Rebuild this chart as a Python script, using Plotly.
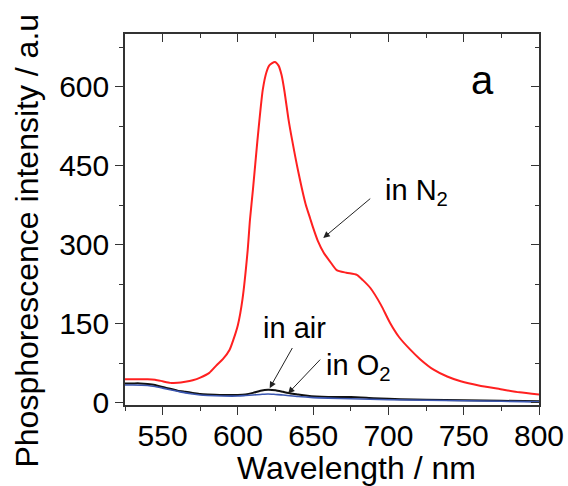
import plotly.graph_objects as go

# Phosphorescence spectra under different atmospheres
wl_n2 = [525, 530, 535, 540, 545, 550, 555, 560, 565, 570, 575, 581, 586, 590, 594.5,
         597, 600, 603, 606.5, 608, 610, 613, 616.5, 619, 621, 624.5, 627, 629, 631,
         633.5, 636, 640, 645, 648, 650, 653, 657, 662, 665.6, 672, 679, 683, 688,
         695, 701, 707, 714.5, 721, 730, 739, 748, 760, 774.5, 787, 800]
int_n2 = [45, 45, 45, 45, 44, 41, 38, 38, 40, 43, 48, 57, 72, 83, 101,
          120, 148, 196, 290, 347, 405, 499, 594, 628, 641, 647, 640, 622, 590,
          540, 499, 440, 377, 350, 332, 308, 285, 265, 252, 247, 243, 233, 218,
          186, 152, 125, 101, 83, 63, 50, 41, 33, 26, 20, 16]

wl_air = [525, 530, 535, 540, 545, 550, 555, 560, 565, 570, 575, 580, 588, 595, 600,
          605, 610, 615, 620, 625, 630, 635, 640, 645, 652, 660, 675, 690, 700, 708,
          725, 750, 775, 800]
int_air = [37, 37, 37, 36, 34, 30, 27, 23, 21, 19, 17, 16, 15, 15, 15,
           16, 19, 23, 25, 24, 21, 18, 16, 14, 12, 11, 11, 9, 8, 7,
           6, 5, 4, 3]

wl_o2 = [525, 530, 540, 545, 550, 555, 560, 565, 570, 575, 580, 590, 600, 605, 610,
         615, 620, 625, 630, 640, 650, 660, 675, 700, 725, 750, 775, 800]
int_o2 = [34, 34, 33, 31, 28, 25, 22, 19, 17, 15, 14, 13, 13, 14, 15,
          16, 17, 16, 15, 12, 10, 9, 8, 6, 5, 4, 3, 2]

x_ticks = [550, 600, 650, 700, 750, 800]
y_ticks = [0, 150, 300, 450, 600]
x_range = [525, 800]
y_range = [-4, 700]

FONT = "Arial, Liberation Sans, sans-serif"
AX = "#333333"

fig = go.Figure()
fig.add_trace(go.Scatter(x=wl_n2, y=int_n2, mode="lines", line=dict(color="#ff2020", width=2, shape="spline", smoothing=0.6)))
fig.add_trace(go.Scatter(x=wl_air, y=int_air, mode="lines", line=dict(color="#111111", width=2, shape="spline", smoothing=0.6)))
fig.add_trace(go.Scatter(x=wl_o2, y=int_o2, mode="lines", line=dict(color="#3a56b0", width=1.6, shape="spline", smoothing=0.6)))
# carrier trace for the mirrored top/right tick axes
fig.add_trace(go.Scatter(x=[None], y=[None], xaxis="x2", yaxis="y2", showlegend=False, hoverinfo="skip"))

axis_common = dict(showgrid=False, zeroline=False, showline=True, linecolor=AX, linewidth=1.5,
                   mirror=True, ticks="outside", ticklen=8, tickwidth=1.2, tickcolor=AX,
                   automargin=False,
                   tickfont=dict(family=FONT, size=30, color="black"))
mirror_common = dict(showgrid=False, zeroline=False, showline=False, showticklabels=False,
                     ticks="inside", ticklen=8, tickwidth=1.2, tickcolor=AX, automargin=False)

fig.update_layout(
    width=568, height=486,
    margin=dict(l=125, r=29, t=34, b=81, autoexpand=False),
    paper_bgcolor="white", plot_bgcolor="white",
    showlegend=False,
    xaxis=dict(range=x_range, tickvals=x_ticks, ticklabelstandoff=-5, **axis_common,
               minor=dict(dtick=25, tick0=525, ticks="outside", ticklen=4, tickwidth=1.2, tickcolor=AX)),
    yaxis=dict(range=y_range, tickvals=y_ticks, **axis_common,
               minor=dict(dtick=75, tick0=0, ticks="outside", ticklen=4, tickwidth=1.2, tickcolor=AX)),
    xaxis2=dict(range=x_range, overlaying="x", side="top", anchor="y2", tickvals=x_ticks, **mirror_common,
                minor=dict(dtick=25, tick0=525, ticks="inside", ticklen=4, tickwidth=1.2, tickcolor=AX)),
    yaxis2=dict(range=y_range, overlaying="y", side="right", anchor="x2", tickvals=y_ticks, **mirror_common,
                minor=dict(dtick=75, tick0=0, ticks="inside", ticklen=4, tickwidth=1.2, tickcolor=AX)),
)

# axis titles
fig.add_annotation(text="Wavelength / nm", xref="paper", yref="paper", x=0.559, y=-0.17,
                   xanchor="center", yanchor="middle",
                   showarrow=False, font=dict(family=FONT, size=32, color="black"))
fig.add_annotation(text="Phosphorescence intensity / a.u", xref="paper", yref="paper", x=-0.237, y=0.443,
                   xanchor="center", yanchor="middle",
                   textangle=-90, showarrow=False, font=dict(family=FONT, size=32, color="black"))

# curve labels
lab_font = dict(family=FONT, size=29, color="black")
fig.add_annotation(text="in N<sub>2</sub>", x=696.5, y=400, xanchor="left", showarrow=False, font=lab_font)
fig.add_annotation(text="in air", x=615.6, y=143, xanchor="left", showarrow=False, font=lab_font)
fig.add_annotation(text="in O<sub>2</sub>", x=657, y=68, xanchor="left", showarrow=False, font=lab_font)
fig.add_annotation(text="a", x=762.3, y=612, showarrow=False, font=dict(family=FONT, size=40, color="black"))

# arrows pointing at the curves
arrows = [((688.9, 390), (656.7, 313)), ((636.7, 107), (621.1, 28)), ((655.6, 85), (633.3, 18))]
for (tx, ty), (hx, hy) in arrows:
    fig.add_annotation(x=hx, y=hy, ax=tx, ay=ty, xref="x", yref="y", axref="x", ayref="y",
                       text="", showarrow=True, arrowhead=2, arrowsize=1.3, arrowwidth=1, arrowcolor="#222222")

fig.write_html("out.html")
